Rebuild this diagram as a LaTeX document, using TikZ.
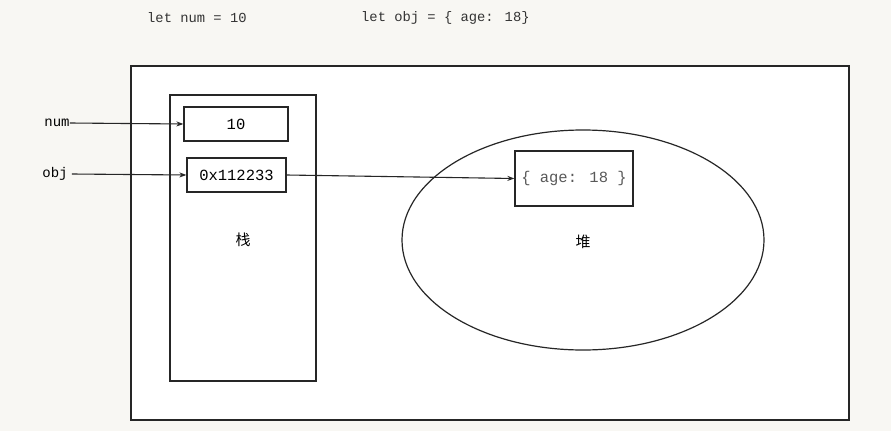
\documentclass[tikz,border=0pt]{standalone}
\usepackage{fontspec}
\setmainfont{Liberation Mono}
\newfontfamily\cjk{Noto Sans CJK SC}
\usetikzlibrary{shapes.geometric,arrows.meta}

\tikzset{
  cell/.style={draw=black!85, line width=1.2pt, fill=white, inner sep=0pt},
  code/.style={anchor=west, inner sep=0pt, text=black!80, font=\fontsize{13.8}{14}\selectfont},
  link/.style={-{Stealth[length=7pt,width=5pt]}, line width=1.1pt, black!85},
}

\begin{document}
\begin{tikzpicture}[x=1pt,y=-1pt]

% ===== Nền =====
\fill[fill={rgb,255:red,248;green,247;blue,243}] (0,0) rectangle (891,431);
\useasboundingbox (0,0) rectangle (891,431);

% ===== Dòng code =====
\node[code] (codenum) at (147,18) {let num = 10};
\node[code] (codeobj) at (361,18) {let obj = \{ age: 18\}};

% ===== Khung ngoài, stack, heap =====
\node[cell, minimum width=718pt, minimum height=354pt] (outer) at (490,243) {};
\node[cell, minimum width=146pt, minimum height=286pt] (stack) at (243,238) {};
\node[cell, ellipse, minimum width=362pt, minimum height=220pt] (heap) at (583,240) {};

% ===== Các ô =====
\node[cell, minimum width=104pt, minimum height=34pt, font=\fontsize{15.5}{16}\selectfont] (numbox) at (236,124) {10};
\node[cell, minimum width=99pt, minimum height=34pt, font=\fontsize{15.5}{16}\selectfont] (objbox) at (236.5,175) {0x112233};
\node[cell, minimum width=118pt, minimum height=55pt, text=black!65, font=\fontsize{15.5}{16}\selectfont] (heapbox) at (574,178.5) {\{ age: 18 \}};

% ===== Nhãn =====
\node[font=\cjk\fontsize{15}{15}\selectfont] (stacklbl) at (243,240) {栈};
\node[font=\cjk\fontsize{15}{15}\selectfont] (heaplbl) at (583,242) {堆};
\node[inner sep=0pt, font=\fontsize{14}{14}\selectfont] (numlbl) at (57,123) {num};
\node[inner sep=0pt, font=\fontsize{14}{14}\selectfont] (objlbl) at (55,174) {obj};

% ===== Mũi tên =====
\draw[link] (numlbl.east) -- (numbox.west);
\draw[link] ([xshift=4pt]objlbl.east) -- (objbox.west);
\draw[link] (objbox.east) -- (heapbox.west);

\end{tikzpicture}
\end{document}
